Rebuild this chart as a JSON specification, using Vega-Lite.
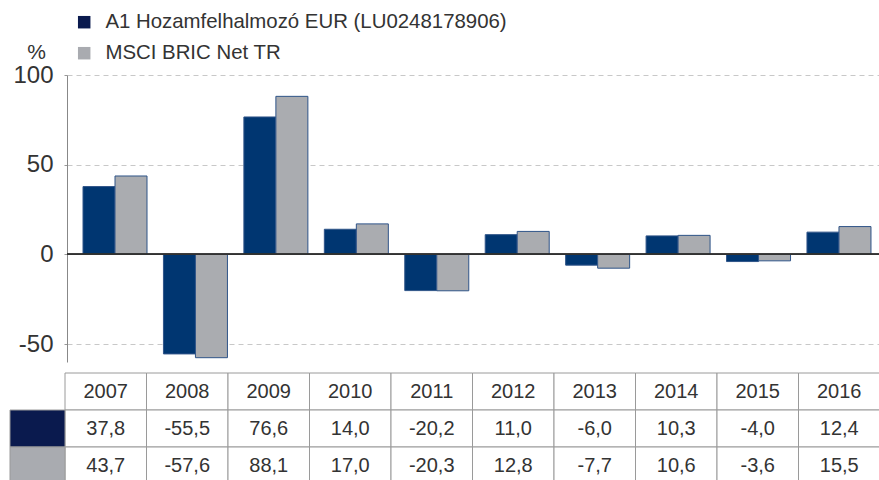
{
  "$schema": "https://vega.github.io/schema/vega-lite/v6.json",
  "width": 812,
  "height": 287,
  "autosize": "none",
  "padding": {"left": 67, "top": 75, "right": 0, "bottom": 118},
  "background": "white",
  "config": {
    "view": {"stroke": null},
    "font": "Liberation Sans",
    "locale": {"number": {"decimal": ",", "thousands": ".", "grouping": [3], "currency": ["", ""], "minus": "-"}}
  },
  "datasets": {
    "vals": [
      {"year": "2007", "series": "A1 Hozamfelhalmozó EUR (LU0248178906)", "value": 37.8},
      {"year": "2007", "series": "MSCI BRIC Net TR", "value": 43.7},
      {"year": "2008", "series": "A1 Hozamfelhalmozó EUR (LU0248178906)", "value": -55.5},
      {"year": "2008", "series": "MSCI BRIC Net TR", "value": -57.6},
      {"year": "2009", "series": "A1 Hozamfelhalmozó EUR (LU0248178906)", "value": 76.6},
      {"year": "2009", "series": "MSCI BRIC Net TR", "value": 88.1},
      {"year": "2010", "series": "A1 Hozamfelhalmozó EUR (LU0248178906)", "value": 14.0},
      {"year": "2010", "series": "MSCI BRIC Net TR", "value": 17.0},
      {"year": "2011", "series": "A1 Hozamfelhalmozó EUR (LU0248178906)", "value": -20.2},
      {"year": "2011", "series": "MSCI BRIC Net TR", "value": -20.3},
      {"year": "2012", "series": "A1 Hozamfelhalmozó EUR (LU0248178906)", "value": 11.0},
      {"year": "2012", "series": "MSCI BRIC Net TR", "value": 12.8},
      {"year": "2013", "series": "A1 Hozamfelhalmozó EUR (LU0248178906)", "value": -6.0},
      {"year": "2013", "series": "MSCI BRIC Net TR", "value": -7.7},
      {"year": "2014", "series": "A1 Hozamfelhalmozó EUR (LU0248178906)", "value": 10.3},
      {"year": "2014", "series": "MSCI BRIC Net TR", "value": 10.6},
      {"year": "2015", "series": "A1 Hozamfelhalmozó EUR (LU0248178906)", "value": -4.0},
      {"year": "2015", "series": "MSCI BRIC Net TR", "value": -3.6},
      {"year": "2016", "series": "A1 Hozamfelhalmozó EUR (LU0248178906)", "value": 12.4},
      {"year": "2016", "series": "MSCI BRIC Net TR", "value": 15.5}
    ]
  },
  "data": {"name": "vals"},
  "layer": [
    {
      "layer": [
        {
          "mark": {"type": "bar", "stroke": "#2f5488", "strokeWidth": 1},
          "encoding": {
            "x": {"field": "year", "type": "ordinal", "axis": null,
                  "scale": {"paddingInner": 0.2044, "paddingOuter": 0.1494, "align": 0.666}},
            "xOffset": {"field": "series", "type": "nominal", "scale": {"paddingInner": 0, "paddingOuter": 0}},
            "y": {"field": "value", "type": "quantitative",
                  "scale": {"domain": [-60, 100], "nice": false},
                  "axis": {"title": "%", "titleAngle": 0, "titleX": -31, "titleY": -17, "titleAlign": "center",
                           "titleBaseline": "alphabetic", "titleFontSize": 21, "titleFontWeight": "normal",
                           "titleColor": "#333", "values": [-50, 0, 50, 100], "labelFontSize": 24,
                           "labelColor": "#333", "labelPadding": 11, "tickSize": 3, "tickColor": "#999",
                           "domainColor": "#888", "gridColor": "#c8c8c8", "gridDash": [5, 4]}},
            "color": {"field": "series", "type": "nominal", "legend": null,
                      "scale": {"range": ["#003671", "#aaacb0"]}}
          }
        },
        {
          "mark": {"type": "rule", "color": "#333", "strokeWidth": 1},
          "encoding": {"y": {"datum": 0}}
        }
      ]
    },
    {
      "layer": [
        {
          "transform": [{"filter": "datum.series === 'MSCI BRIC Net TR'"}],
          "mark": {"type": "rect", "fill": "white", "stroke": "#9a9a9a", "strokeWidth": 1},
          "encoding": {
            "x": {"field": "year", "type": "ordinal", "axis": null,
                  "scale": {"range": [-2, 813], "paddingInner": 0, "paddingOuter": 0}},
            "y": {"datum": "header", "type": "nominal", "axis": null,
                  "scale": {"domain": ["header", "A1 Hozamfelhalmozó EUR (LU0248178906)", "MSCI BRIC Net TR"],
                            "range": [298, 409], "paddingInner": 0, "paddingOuter": 0}}
          }
        },
        {
          "mark": {"type": "rect", "fill": "white", "stroke": "#9a9a9a", "strokeWidth": 1},
          "encoding": {
            "x": {"field": "year", "type": "ordinal", "axis": null},
            "y": {"field": "series", "type": "nominal", "axis": null}
          }
        },
        {
          "transform": [{"filter": "datum.series === 'MSCI BRIC Net TR'"}],
          "mark": {"type": "text", "fontSize": 20, "color": "#333"},
          "encoding": {
            "x": {"field": "year", "type": "ordinal", "axis": null},
            "y": {"datum": "header", "type": "nominal", "axis": null},
            "text": {"field": "year", "type": "nominal"}
          }
        },
        {
          "mark": {"type": "text", "fontSize": 20, "color": "#333"},
          "encoding": {
            "x": {"field": "year", "type": "ordinal", "axis": null},
            "y": {"field": "series", "type": "nominal", "axis": null},
            "text": {"field": "value", "type": "quantitative", "format": ".1f"}
          }
        }
      ]
    },
    {
      "transform": [{"filter": "datum.year === '2007'"}],
      "mark": {"type": "rect", "stroke": "#9a9a9a", "strokeWidth": 1},
      "encoding": {
        "x": {"datum": "sw", "type": "nominal", "axis": null,
              "scale": {"domain": ["sw"], "range": [-57, -2], "paddingInner": 0, "paddingOuter": 0}},
        "y": {"field": "series", "type": "nominal", "axis": null,
              "scale": {"domain": ["header", "A1 Hozamfelhalmozó EUR (LU0248178906)", "MSCI BRIC Net TR"],
                        "range": [298, 409], "paddingInner": 0, "paddingOuter": 0}},
        "color": {"field": "series", "type": "nominal",
                  "scale": {"range": ["#0a1a4e", "#a9abb0"]},
                  "legend": {"orient": "none", "legendX": 7, "legendY": -63, "title": null,
                             "symbolType": "square", "symbolSize": 156, "symbolStrokeWidth": 0,
                             "labelFontSize": 20.4, "labelColor": "#333", "labelOffset": 11,
                             "rowPadding": 10, "padding": 0, "labelLimit": 0}}
      }
    }
  ],
  "resolve": {"scale": {"x": "independent", "y": "independent", "color": "independent", "xOffset": "independent"}}
}
